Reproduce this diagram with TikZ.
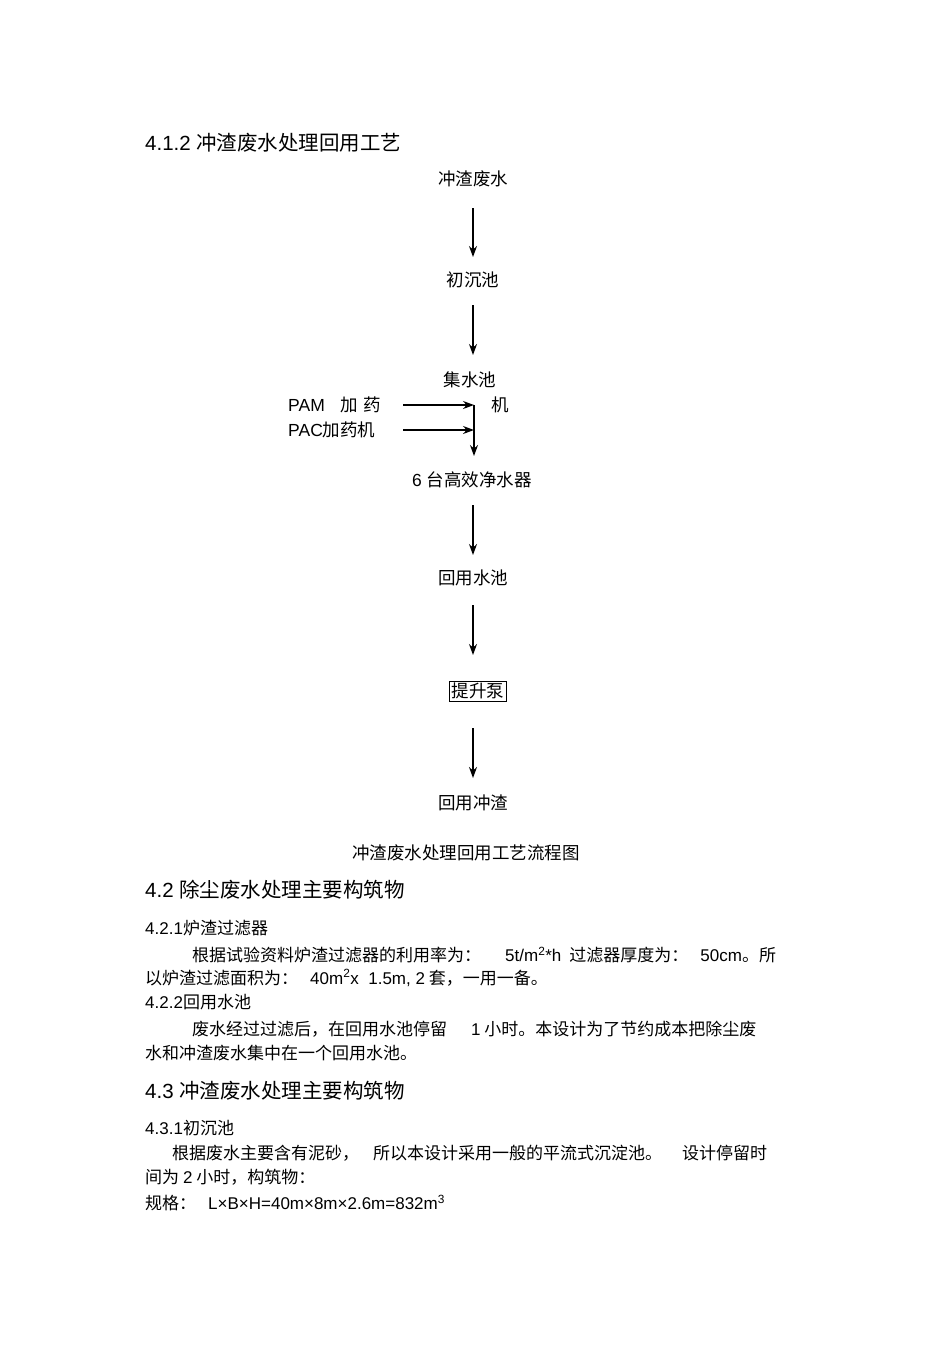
\documentclass[tikz,border=0pt]{standalone}
\usepackage{fontspec}
\setmainfont{Liberation Sans}
\newfontfamily\cjk{Noto Sans CJK SC}
\usetikzlibrary{arrows.meta}
\begin{document}
\begin{tikzpicture}[x=1pt,y=-1pt,
  lbl/.style={font=\fontsize{17.5}{17.5}\selectfont, inner sep=0pt},
  txt/.style={font=\fontsize{17}{17}\selectfont, inner sep=0pt, anchor=west},
  hd/.style={font=\fontsize{20.5}{20.5}\selectfont, inner sep=0pt, anchor=west},
  flow/.style={-{Stealth[length=11pt,width=8pt]}, line width=1.2pt}]
\useasboundingbox (0,0) rectangle (950,1345);
\node[hd] (h1) at (145,143) {4.1.2 {\cjk 冲渣废水处理回用工艺}};
\node[lbl] (a) at (473,179) {\cjk 冲渣废水};
\node[lbl] (b) at (473,280) {\cjk 初沉池};
\node[lbl] (c) at (470,380) {\cjk 集水池};
\node[lbl] (cj) at (500,405) {\cjk 机};
\node[lbl,anchor=west] (pam) at (288,405) {PAM\hspace{16pt}{\cjk 加\hspace{5pt}药}};
\node[lbl,anchor=west] (pac) at (288,430) {PAC{\cjk 加药机}};
\node[lbl] (d) at (472,480) {6 {\cjk 台高效净水器}};
\node[lbl] (e) at (473,578) {\cjk 回用水池};
\node[lbl,draw,line width=0.8pt,inner sep=2pt] (f) at (478,691) {\cjk 提升泵};
\node[lbl] (g) at (473,803) {\cjk 回用冲渣};
\coordinate (j1) at (474,405);
\coordinate (j2) at (474,430);
\coordinate (j3) at (474,456);
\draw[flow] (a.south |- 0,208) -- (a.south |- 0,257);
\draw[flow] (b.south |- 0,305) -- (b.south |- 0,355);
\draw[flow] (403,405) -- (j1);
\draw[flow] (403,430) -- (j2);
\draw[flow] (j1) -- (j3);
\draw[flow] (473,505) -- (473,555);
\draw[flow] (e.south |- 0,605) -- (e.south |- 0,655);
\draw[flow] (473,728) -- (473,778);
\node[lbl] (cap) at (466,853) {\cjk 冲渣废水处理回用工艺流程图};
\node[hd] (h2) at (145,890) {4.2 {\cjk 除尘废水处理主要构筑物}};
\node[txt] (h21) at (145,928) {4.2.1{\cjk 炉渣过滤器}};
\node[txt] (p1) at (192,955) {\cjk 根据试验资料炉渣过滤器的利用率为：\hspace{24pt}{\rmfamily 5t/m\textsuperscript{2}*h}\hspace{8pt}过滤器厚度为：\hspace{12pt}{\rmfamily 50cm}。所};
\node[txt] (p2) at (145,978) {\cjk 以炉渣过滤面积为：\hspace{12pt}{\rmfamily 40m\textsuperscript{2}x\ \ 1.5m, 2} 套，一用一备。};
\node[txt] (h22) at (145,1002) {4.2.2{\cjk 回用水池}};
\node[txt] (p3) at (192,1029) {\cjk 废水经过过滤后，在回用水池停留\hspace{24pt}{\rmfamily 1} 小时。本设计为了节约成本把除尘废};
\node[txt] (p4) at (145,1053) {\cjk 水和冲渣废水集中在一个回用水池。};
\node[hd] (h3) at (145,1091) {4.3 {\cjk 冲渣废水处理主要构筑物}};
\node[txt] (h31) at (145,1128) {4.3.1{\cjk 初沉池}};
\node[txt] (p5) at (172,1153) {\cjk 根据废水主要含有泥砂，\hspace{14pt}所以本设计采用一般的平流式沉淀池。\hspace{20pt}设计停留时};
\node[txt] (p6) at (145,1177) {\cjk 间为 {\rmfamily 2} 小时，构筑物：};
\node[txt] (p7) at (145,1203) {{\cjk 规格：}\hspace{12pt}L×B×H=40m×8m×2.6m=832m\textsuperscript{3}};
\end{tikzpicture}
\end{document}
